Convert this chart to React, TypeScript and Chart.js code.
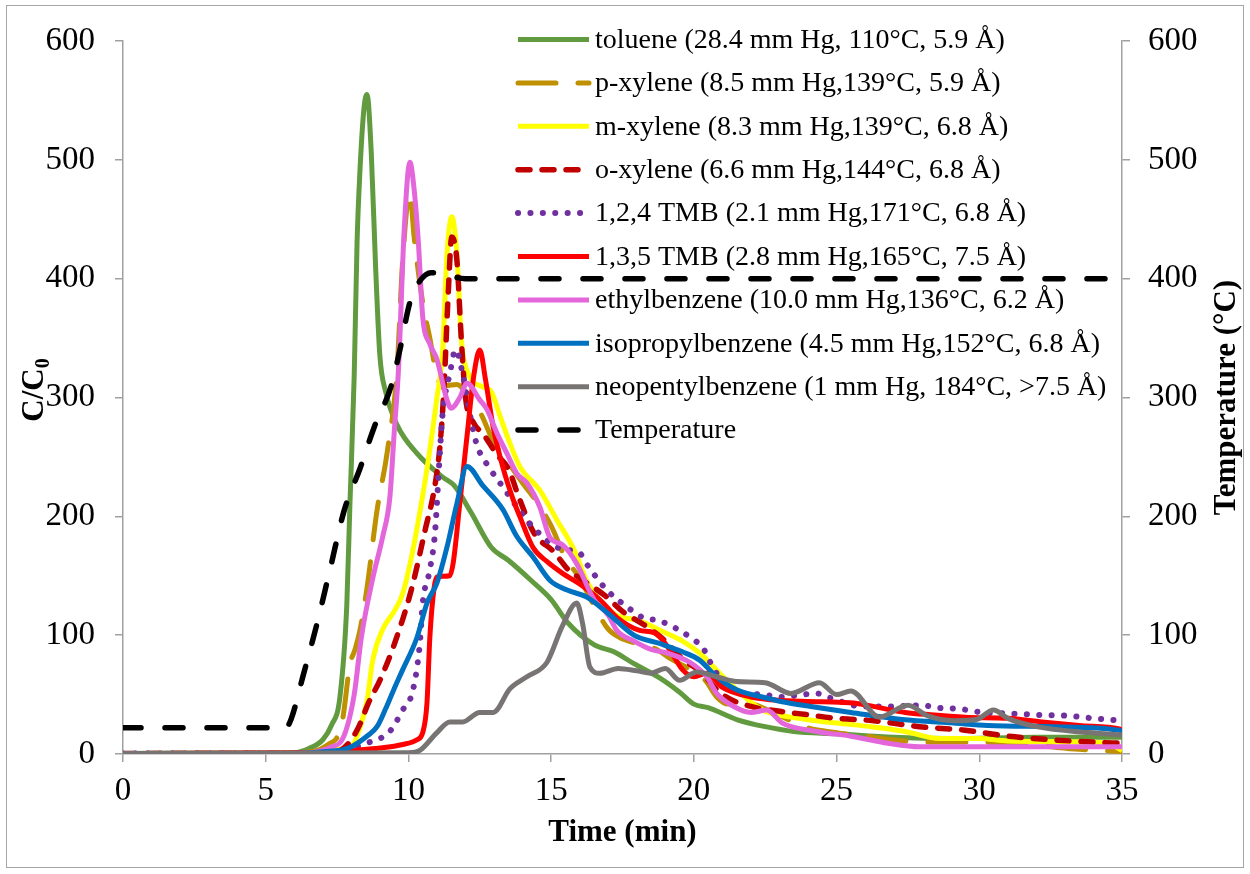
import React, { useEffect, useRef } from 'react';
import { Chart, registerables } from 'chart.js';

Chart.register(...registerables);

const FONT = "'Liberation Serif', 'Times New Roman', serif";

// ---- data: [time (min), C/C0] ----
const toluene = [[0,0.5],[3,0.8],[5,0.8],[6,1],[6.55,5],[7.0,12],[7.3,24],[7.6,48],[7.84,125],[7.95,210],[8.1,318],[8.2,430],[8.3,490],[8.45,545],[8.55,555],[8.7,505],[8.85,410],[9.0,335],[9.2,305],[9.6,277],[10.3,253],[11.2,233],[11.6,226],[12.2,203],[12.9,174],[13.5,163],[14.3,146],[15.0,130],[15.6,110],[16.5,92],[17.2,86],[17.9,76],[18.8,64],[19.5,52],[20.0,42],[20.5,39],[21.5,29],[22.5,23],[23.5,19],[25,17],[27,14],[29,13],[32,14],[35,14]];
const pXylene = [[0,0.5],[5,0.5],[6,1],[6.8,3],[7.25,9],[7.5,14],[7.7,30],[7.95,75],[8.13,88],[8.3,104],[8.55,140],[8.9,205],[9.25,253],[9.6,323],[9.8,416],[10.05,472],[10.2,435],[10.5,380],[10.75,350],[11.0,318],[11.3,310],[11.7,311],[12.0,305],[12.5,288],[13.0,262],[13.5,245],[14.0,228],[14.5,212],[15.0,192],[15.5,165],[16.0,148],[16.5,125],[17.0,105],[17.4,98],[18.0,93],[18.7,88],[19.2,80],[19.8,72],[20.4,62],[20.8,48],[21.2,42],[22.0,42],[22.5,38],[23.4,28],[24.0,22],[25.0,18],[26.0,15],[27.0,12],[28.0,10],[30.0,10],[32.0,7],[33.5,4],[35,2]];
const mXylene = [[0,0.5],[6,0.5],[7,2],[7.6,4],[8.06,8],[8.3,22],[8.55,45],[8.75,79],[9.1,105],[9.5,120],[9.8,135],[10.1,165],[10.3,190],[10.65,240],[11.0,300],[11.2,340],[11.35,420],[11.52,452],[11.7,420],[11.85,350],[12.1,320],[12.6,309],[12.9,305],[13.2,285],[13.5,265],[13.9,242],[14.6,222],[15.2,197],[15.8,172],[16.3,143],[17.2,118],[18.1,112],[19.0,102],[19.6,95],[20.2,85],[20.9,68],[21.5,54],[22.4,37],[23.4,31],[24.3,28],[25,26],[26.2,23],[27.4,19],[28.6,13],[30,13],[31,11],[33.9,10],[34.6,8],[35,3]];
const oXylene = [[0,0.5],[6,0.5],[7,1],[7.6,3],[8.0,12],[8.3,25],[8.6,43],[9.0,62],[9.5,92],[10.1,138],[10.6,190],[10.9,222],[11.1,258],[11.25,310],[11.38,380],[11.52,435],[11.7,415],[11.85,350],[12.0,300],[12.3,278],[12.6,270],[13.1,252],[13.5,240],[13.9,214],[14.4,186],[15.1,170],[15.6,155],[16.0,148],[16.9,133],[17.5,120],[18.3,108],[19.0,95],[19.6,80],[20.2,70],[21.0,50],[22.0,40],[23.0,36],[24.0,33],[25,30],[26.3,28],[27.9,23],[29.5,20],[31,15],[32.5,12],[34,10],[35,9]];
const tmb124 = [[0,0.5],[6,0.5],[7,1],[8,5],[8.5,9],[9.0,13],[9.35,19],[9.8,37],[10.16,54],[10.4,93],[10.5,127],[10.75,155],[10.93,186],[11.1,253],[11.2,287],[11.45,320],[11.65,340],[11.9,320],[12.16,285],[12.4,260],[12.86,240],[13.3,225],[13.8,208],[14.36,191],[15.3,173],[16.0,169],[16.3,158],[16.95,138],[17.65,124],[18.2,115],[18.8,112],[19.5,104],[20.0,96],[20.3,90],[20.67,73],[21.27,54],[22.4,50],[23.1,48],[23.8,50],[24.3,51],[24.8,47],[25.9,40],[26.9,40],[28,41],[28.5,39],[29.3,38],[30.1,35],[31.1,34],[32,33],[33.2,32],[34,30],[34.5,29],[35,28]];
const tmb135 = [[0,0.5],[7,1],[8,3],[9,5],[9.8,8],[10.3,12],[10.5,18],[10.65,43],[10.75,98],[10.9,140],[11.0,149],[11.45,150],[11.57,161],[11.8,211],[12.05,267],[12.3,320],[12.5,340],[12.7,315],[12.97,275],[13.3,242],[13.67,214],[13.9,200],[14.36,174],[14.85,162],[15.4,152],[16.0,143],[16.7,130],[17.3,115],[18.1,104],[18.6,102],[18.9,96],[19.3,82],[19.6,71],[20.0,65],[20.45,68],[21.0,56],[22.0,48],[23.1,45],[24.5,44],[25.6,43],[26.5,39],[27.4,35],[28.3,33],[29.5,31],[31,30],[32.2,27],[33.5,24],[34.9,21],[35,20]];
const ethylbenzene = [[0,0.5],[6,0.5],[6.8,2],[7.3,6],[7.7,13],[8.1,50],[8.35,98],[8.76,149],[9.1,183],[9.35,216],[9.5,270],[9.65,323],[9.85,440],[10.05,498],[10.2,475],[10.35,430],[10.5,368],[10.75,345],[11.0,332],[11.35,298],[11.5,291],[11.8,300],[12.05,312],[12.5,298],[12.75,290],[13.1,270],[13.45,253],[13.8,236],[14.15,228],[14.6,208],[14.96,182],[15.4,176],[15.9,160],[16.5,130],[17.0,117],[17.3,104],[17.9,95],[18.5,88],[19.05,85],[19.87,77],[20.45,65],[20.8,51],[21.4,40],[22.0,35],[22.56,37],[23.1,26],[24.3,19],[25.5,15],[26.8,9],[27.9,6],[35,6]];
const isopropylbenzene = [[0,0.5],[6,0.5],[7,2],[7.9,5],[8.6,16],[8.9,23],[9.2,38],[9.5,55],[9.8,71],[10.3,98],[10.65,127],[11.0,144],[11.35,174],[11.7,211],[12.05,242],[12.6,226],[13.3,206],[13.8,183],[14.36,166],[14.96,146],[15.56,138],[16.25,132],[17.06,117],[17.9,100],[18.8,93],[19.6,86],[20.2,79],[20.8,65],[21.5,54],[22.4,48],[23.1,44],[24.1,40],[25.5,35],[27.3,29],[29.1,26],[30.3,24],[32.6,23],[34.9,20],[35,19]];
const neopentylbenzene = [[0,0.5],[10,1],[10.4,3],[11.0,18],[11.45,27],[11.9,27],[12.5,35],[12.97,35],[13.56,55],[14.15,65],[14.85,77],[15.4,108],[15.9,127],[16.1,110],[16.36,73],[16.7,68],[17.35,72],[18.0,70],[18.5,68],[19.0,72],[19.5,62],[20.1,69],[20.8,65],[21.5,61],[22.5,60],[23.4,51],[24.4,60],[25.0,50],[25.5,53],[26.5,31],[27.5,41],[28.2,32],[29.1,28],[29.9,29],[30.5,37],[31.0,30],[32.0,23],[33.8,18],[35,16]];
// [time (min), temperature (°C)]
const temperature = [[0,22],[5.7,22],[5.9,30],[6.3,65],[6.8,110],[7.25,155],[7.75,205],[8.3,240],[8.8,275],[9.4,310],[9.7,340],[10.05,380],[10.4,398],[10.8,405],[11.3,403],[12,400],[35,400]];

const seriesLabels = [
  'toluene (28.4 mm Hg, 110°C, 5.9 Å)',
  'p-xylene (8.5 mm Hg,139°C, 5.9 Å)',
  'm-xylene (8.3 mm Hg,139°C, 6.8 Å)',
  'o-xylene (6.6 mm Hg,144°C, 6.8 Å)',
  '1,2,4 TMB (2.1 mm Hg,171°C, 6.8 Å)',
  '1,3,5 TMB (2.8 mm Hg,165°C, 7.5 Å)',
  'ethylbenzene (10.0 mm Hg,136°C, 6.2 Å)',
  'isopropylbenzene (4.5 mm Hg,152°C, 6.8 Å)',
  'neopentylbenzene (1 mm Hg, 184°C, >7.5 Å)',
  'Temperature',
];
const seriesData = [toluene, pXylene, mXylene, oXylene, tmb124, tmb135, ethylbenzene, isopropylbenzene, neopentylbenzene, temperature];

const styles = [
  { color: '#629B3F', width: 5, dash: [] as number[] },
  { color: '#BF9000', width: 5, dash: [38, 22] },
  { color: '#FFFF00', width: 5, dash: [] },
  { color: '#C00000', width: 5.5, dash: [12, 12] },
  { color: '#7030A0', width: 6, dash: [0.1, 12.3] },
  { color: '#FF0000', width: 5, dash: [] },
  { color: '#E366DB', width: 5, dash: [] },
  { color: '#0070C0', width: 5, dash: [] },
  { color: '#787474', width: 5, dash: [] },
  { color: '#000000', width: 5.5, dash: [18, 24] },
];

const xTickStep = 5;
const yTickStep = 100;

const AXIS_COLOR = '#A0A0A0';

const overlay = {
  id: 'overlay',
  beforeDraw(chart: any) {
    const ctx = chart.ctx;
    ctx.save();
    ctx.fillStyle = '#FFFFFF';
    ctx.fillRect(0, 0, chart.width, chart.height);
    ctx.restore();
  },
  afterDraw(chart: any) {
    const ctx = chart.ctx;
    const ca = chart.chartArea;
    ctx.save();
    // chart border
    ctx.strokeStyle = '#A6A6A6';
    ctx.lineWidth = 1;
    ctx.strokeRect(6.5, 5.5, 1237, 862);

    // axis titles
    ctx.fillStyle = '#000';
    ctx.font = `bold 31px ${FONT}`;
    ctx.textAlign = 'center';
    ctx.textBaseline = 'middle';
    ctx.fillText('Time (min)', (ca.left + ca.right) / 2, 833);

    ctx.save();
    ctx.translate(1227, (ca.top + ca.bottom) / 2);
    ctx.rotate(-Math.PI / 2);
    ctx.fillText('Temperature (°C)', 0, 0);
    ctx.restore();

    ctx.save();
    ctx.translate(33, 390);
    ctx.rotate(-Math.PI / 2);
    ctx.textAlign = 'left';
    ctx.textBaseline = 'alphabetic';
    ctx.font = `bold 31px ${FONT}`;
    const w1 = ctx.measureText('C/C').width;
    ctx.font = `bold 20px ${FONT}`;
    const w2 = ctx.measureText('0').width;
    const x0 = -(w1 + w2) / 2;
    ctx.font = `bold 31px ${FONT}`;
    ctx.fillText('C/C', x0, 10);
    ctx.font = `bold 20px ${FONT}`;
    ctx.fillText('0', x0 + w1, 16);
    ctx.restore();

    // legend
    ctx.font = `28px ${FONT}`;
    ctx.textAlign = 'left';
    ctx.textBaseline = 'middle';
    seriesLabels.forEach((lab, i) => {
      const y = 39.5 + i * 43.4;
      const st = styles[i];
      ctx.save();
      ctx.beginPath();
      ctx.rect(512, y - 10, 80, 20);
      ctx.clip();
      ctx.strokeStyle = st.color;
      ctx.lineWidth = st.width;
      ctx.lineCap = st.dash.length ? 'round' : 'butt';
      ctx.setLineDash(st.dash);
      ctx.beginPath();
      ctx.moveTo(518, y);
      ctx.lineTo(589, y);
      ctx.stroke();
      ctx.restore();
      ctx.fillStyle = '#000';
      ctx.fillText(lab, 595, y + 1);
    });
    ctx.restore();
  },
};

export default function App() {
  const ref = useRef<HTMLCanvasElement>(null);
  useEffect(() => {
    document.body.style.margin = '0';
    Chart.defaults.font.family = FONT;
    Chart.defaults.color = '#000';
    const datasets = seriesData.map((d, i) => ({
      label: seriesLabels[i],
      data: d.map(([x, y]) => ({ x, y })),
      borderColor: styles[i].color,
      backgroundColor: styles[i].color,
      borderWidth: styles[i].width,
      borderDash: styles[i].dash,
      borderCapStyle: styles[i].dash.length ? 'round' : 'butt',
      borderJoinStyle: 'round',
      pointRadius: 0,
      pointHoverRadius: 0,
      cubicInterpolationMode: 'monotone',
      fill: false,
      yAxisID: i === seriesData.length - 1 ? 'y2' : 'y',
      order: seriesData.length - i,
    }));
    const gridOpts = {
      display: true,
      drawOnChartArea: false,
      drawTicks: true,
      tickLength: 8,
      color: AXIS_COLOR,
      lineWidth: 1.5,
    };
    const tickFont = { size: 33, family: FONT };
    const chart = new Chart(ref.current!, {
      type: 'line',
      data: { datasets: datasets as any },
      options: {
        responsive: false,
        animation: false,
        devicePixelRatio: 1,
        layout: { padding: { top: 41, left: 0, right: 0, bottom: 0 } },
        plugins: { legend: { display: false }, tooltip: { enabled: false } },
        scales: {
          x: {
            type: 'linear',
            min: 0,
            max: 35,
            ticks: { stepSize: xTickStep, font: tickFont, color: '#000', padding: 10 },
            grid: gridOpts,
            border: { display: true, color: AXIS_COLOR, width: 1.5 },
            afterFit: (s: any) => { s.height = 120; },
          },
          y: {
            type: 'linear',
            position: 'left',
            min: 0,
            max: 600,
            ticks: { stepSize: yTickStep, font: tickFont, color: '#000', padding: 20 },
            grid: gridOpts,
            border: { display: true, color: AXIS_COLOR, width: 1.5 },
            afterFit: (s: any) => { s.width = 123; },
          },
          y2: {
            type: 'linear',
            position: 'right',
            min: 0,
            max: 600,
            ticks: { stepSize: yTickStep, font: tickFont, color: '#000', padding: 18 },
            grid: gridOpts,
            border: { display: true, color: AXIS_COLOR, width: 1.5 },
            afterFit: (s: any) => { s.width = 128; },
          },
        },
      },
      plugins: [overlay],
    } as any);
    return () => chart.destroy();
  }, []);
  return (
    <div style={{ width: 1250, height: 874 }}>
      <canvas ref={ref} width={1250} height={874} style={{ display: 'block' }} />
    </div>
  );
}
